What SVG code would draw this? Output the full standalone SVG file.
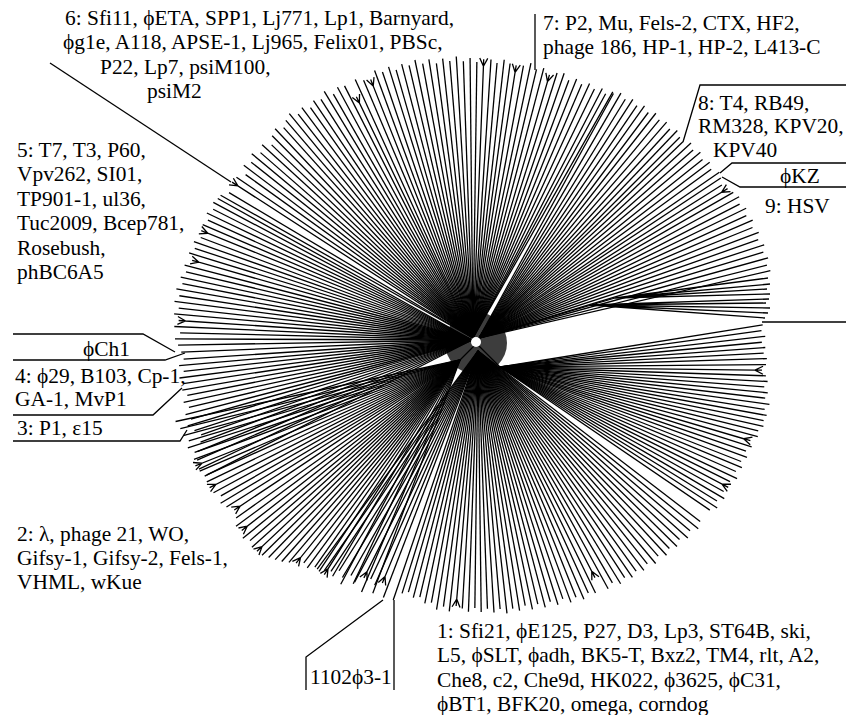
<svg xmlns="http://www.w3.org/2000/svg" width="846" height="715" viewBox="0 0 846 715">
<style>
.t{font-family:"Liberation Serif","Times New Roman",serif;font-size:21.4px;fill:#000}
.e{stroke:#000;stroke-width:1.3;fill:none}
</style>
<rect width="846" height="715" fill="#fff"/>
<circle id="hub" cx="476" cy="343" r="31" fill="#3d3d3d"/>
<g id="tree" class="e">
<g id="clade-top" transform="translate(473,338)">
<line x2="290" transform="rotate(-150.5)"/>
<line x2="284" transform="rotate(-149.2)"/>
<path d="M0 0H280l8-4m-8 4l8 4m-8-4h7" transform="rotate(-147.1)"/>
<line x2="286" transform="rotate(-145.8)"/>
<line x2="280" transform="rotate(-144.3)"/>
<line x2="287" transform="rotate(-143)"/>
<line x2="283" transform="rotate(-141.6)"/>
<line x2="288" transform="rotate(-140.2)"/>
<line x2="282" transform="rotate(-138.9)"/>
<line x2="286" transform="rotate(-137.5)"/>
<line x2="279" transform="rotate(-136.2)"/>
<line x2="285" transform="rotate(-134.8)"/>
<line x2="288" transform="rotate(-133.4)"/>
<line x2="283" transform="rotate(-132)"/>
<line x2="287" transform="rotate(-130.7)"/>
<line x2="290" transform="rotate(-129.3)"/>
<line x2="284" transform="rotate(-128)"/>
<line x2="287" transform="rotate(-126.6)"/>
<line x2="282" transform="rotate(-125.2)"/>
<line x2="286" transform="rotate(-123.9)"/>
<line x2="283" transform="rotate(-122.5)"/>
<line x2="288" transform="rotate(-121.1)"/>
<line x2="281" transform="rotate(-119.8)"/>
<line x2="285" transform="rotate(-118.4)"/>
<line x2="283" transform="rotate(-117)"/>
<path d="M0 0H261l8-4m-8 4l8 4m-8-4h7" transform="rotate(-115.8)"/>
<line x2="284" transform="rotate(-114.5)"/>
<line x2="280" transform="rotate(-113)"/>
<path d="M0 0H271l8-4m-8 4l8 4m-8-4h7" transform="rotate(-111.6)"/>
<line x2="285" transform="rotate(-110.2)"/>
<line x2="281" transform="rotate(-108.8)"/>
<line x2="284" transform="rotate(-107.3)"/>
<line x2="279" transform="rotate(-106)"/>
<line x2="283" transform="rotate(-104.6)"/>
<line x2="280" transform="rotate(-103.2)"/>
<line x2="284" transform="rotate(-101.8)"/>
<line x2="279" transform="rotate(-100.4)"/>
<line x2="282" transform="rotate(-99)"/>
<line x2="277" transform="rotate(-97.6)"/>
<line x2="281" transform="rotate(-96.2)"/>
<line x2="278" transform="rotate(-94.8)"/>
<line x2="282" transform="rotate(-93.4)"/>
<line x2="277" transform="rotate(-92)"/>
<line x2="280" transform="rotate(-90.6)"/>
<line x2="276" transform="rotate(-89.2)"/>
<path d="M0 0H272l8-4m-8 4l8 4m-8-4h7" transform="rotate(-87.8)"/>
<line x2="279" transform="rotate(-86.3)"/>
<line x2="276" transform="rotate(-85)"/>
<line x2="280" transform="rotate(-83.6)"/>
<line x2="277" transform="rotate(-82.3)"/>
<path d="M0 0H269l8-4m-8 4l8 4m-8-4h7" transform="rotate(-81)"/>
<line x2="277" transform="rotate(-79.5)"/>
<line x2="281" transform="rotate(-78.1)"/>
<line x2="276" transform="rotate(-76.7)"/>
<line x2="279" transform="rotate(-75.3)"/>
<path d="M0 0H267l8-4m-8 4l8 4m-8-4h7" transform="rotate(-73.8)"/>
<line x2="278" transform="rotate(-72.4)"/>
<line x2="280" transform="rotate(-71)"/>
<line x2="275" transform="rotate(-69.6)"/>
<line x2="279" transform="rotate(-68.2)"/>
<line x2="276" transform="rotate(-66.8)"/>
<line x2="280" transform="rotate(-65.4)"/>
<line x2="277" transform="rotate(-64)"/>
<line x2="281" transform="rotate(-62.6)"/>
<line x2="278" transform="rotate(-61.5)"/>
<line x2="283" transform="rotate(-60.4)"/>
</g>
<g id="clade-upper-right" transform="translate(479,338)">
<line x2="279" transform="rotate(-61.2)"/>
<line x2="283" transform="rotate(-59.9)"/>
<line x2="280" transform="rotate(-58.5)"/>
<line x2="284" transform="rotate(-57.2)"/>
<line x2="281" transform="rotate(-55.8)"/>
<line x2="285" transform="rotate(-54.5)"/>
<line x2="282" transform="rotate(-53.1)"/>
<line x2="286" transform="rotate(-51.8)"/>
<line x2="283" transform="rotate(-50.4)"/>
<line x2="286" transform="rotate(-49)"/>
<line x2="283" transform="rotate(-47.6)"/>
<line x2="287" transform="rotate(-46.3)"/>
<line x2="284" transform="rotate(-45)"/>
<line x2="283" transform="rotate(-43.9)"/>
<line x2="288" transform="rotate(-42.6)"/>
<line x2="285" transform="rotate(-41.3)"/>
<line x2="289" transform="rotate(-40)"/>
<line x2="286" transform="rotate(-38.6)"/>
<line x2="290" transform="rotate(-37.3)"/>
<line x2="287" transform="rotate(-36)"/>
<line x2="292" transform="rotate(-34.6)"/>
<line x2="290" transform="rotate(-33.5)"/>
<line x2="287" transform="rotate(-32.2)"/>
<path d="M0 0H283l8-4m-8 4l8 4m-8-4h7" transform="rotate(-31)"/>
<line x2="293" transform="rotate(-29.8)"/>
<line x2="296" transform="rotate(-28.5)"/>
<line x2="293" transform="rotate(-27.2)"/>
<line x2="297" transform="rotate(-25.9)"/>
<line x2="294" transform="rotate(-24.6)"/>
<line x2="298" transform="rotate(-23.3)"/>
<line x2="295" transform="rotate(-22)"/>
<line x2="299" transform="rotate(-20.7)"/>
<line x2="296" transform="rotate(-19.4)"/>
<line x2="300" transform="rotate(-18.1)"/>
<line x2="297" transform="rotate(-16.8)"/>
<line x2="300" transform="rotate(-15.5)"/>
<line x2="297" transform="rotate(-14.2)"/>
<line x2="299" transform="rotate(-13)"/>
</g>
<path id="clade-right-fan" d="M479 338L615 298M615 298L768 278M615 298L770 284M615 298L767 289M615 298L770 294M590 305L769 299M590 305L766 303M590 305L770 308M590 305L768 313M590 305L765 318"/>
<path d="M476 343L500 367M474 346L460 360"/>
<g id="clade-right" transform="translate(500,367)">
<line x2="266" transform="rotate(-9.1)"/>
<line x2="264" transform="rotate(-7.9)"/>
<line x2="267" transform="rotate(-6.6)"/>
<line x2="263" transform="rotate(-5.4)"/>
<line x2="266" transform="rotate(-4.2)"/>
<line x2="264" transform="rotate(-3)"/>
<line x2="267" transform="rotate(-1.8)"/>
<line x2="266" transform="rotate(-0.5)"/>
<path d="M0 0H255l8-4m-8 4l8 4m-8-4h7" transform="rotate(0.7)"/>
<line x2="266" transform="rotate(1.9)"/>
<line x2="268" transform="rotate(3.1)"/>
<line x2="265" transform="rotate(4.3)"/>
<line x2="269" transform="rotate(5.5)"/>
<line x2="267" transform="rotate(6.7)"/>
<line x2="272" transform="rotate(7.9)"/>
<line x2="268" transform="rotate(9.1)"/>
<line x2="271" transform="rotate(10.3)"/>
<line x2="269" transform="rotate(11.5)"/>
<line x2="270" transform="rotate(12.7)"/>
<line x2="266" transform="rotate(13.9)"/>
<line x2="267" transform="rotate(15.1)"/>
<path d="M0 0H254l8-4m-8 4l8 4m-8-4h7" transform="rotate(16.4)"/>
<line x2="264" transform="rotate(17.6)"/>
<line x2="260" transform="rotate(18.9)"/>
<line x2="263" transform="rotate(20.1)"/>
<line x2="259" transform="rotate(21.4)"/>
<line x2="262" transform="rotate(22.6)"/>
<line x2="258" transform="rotate(23.9)"/>
<line x2="262" transform="rotate(25.2)"/>
<line x2="257" transform="rotate(26.5)"/>
<path d="M0 0H251l8-4m-8 4l8 4m-8-4h7" transform="rotate(27.8)"/>
<line x2="256" transform="rotate(29.1)"/>
<line x2="260" transform="rotate(30.4)"/>
<line x2="255" transform="rotate(31.7)"/>
<line x2="259" transform="rotate(33)"/>
<line x2="254" transform="rotate(34.3)"/>
</g>
<g id="clade-bottom" transform="translate(478,351)">
<line x2="280" transform="rotate(37.5)"/>
<line x2="283" transform="rotate(38.9)"/>
<line x2="278" transform="rotate(40.3)"/>
<line x2="281" transform="rotate(41.7)"/>
<line x2="276" transform="rotate(43.1)"/>
<line x2="279" transform="rotate(44.5)"/>
<line x2="275" transform="rotate(45.9)"/>
<line x2="278" transform="rotate(47.3)"/>
<line x2="273" transform="rotate(48.7)"/>
<line x2="277" transform="rotate(50.1)"/>
<line x2="272" transform="rotate(51.5)"/>
<line x2="275" transform="rotate(52.9)"/>
<line x2="271" transform="rotate(54.3)"/>
<line x2="274" transform="rotate(55.7)"/>
<line x2="270" transform="rotate(57.1)"/>
<line x2="273" transform="rotate(58.5)"/>
<line x2="268" transform="rotate(59.9)"/>
<line x2="271" transform="rotate(61.3)"/>
<path d="M0 0H248l8-4m-8 4l8 4m-8-4h7" transform="rotate(62.7)"/>
<line x2="269" transform="rotate(64.1)"/>
<line x2="266" transform="rotate(65.5)"/>
<line x2="270" transform="rotate(66.9)"/>
<line x2="265" transform="rotate(68.3)"/>
<line x2="268" transform="rotate(69.7)"/>
<line x2="262" transform="rotate(71.1)"/>
<line x2="266" transform="rotate(72.5)"/>
<line x2="261" transform="rotate(73.9)"/>
<line x2="265" transform="rotate(75.3)"/>
<line x2="260" transform="rotate(76.7)"/>
<line x2="264" transform="rotate(78.1)"/>
<line x2="259" transform="rotate(79.5)"/>
<line x2="263" transform="rotate(80.9)"/>
<line x2="260" transform="rotate(82.3)"/>
<line x2="264" transform="rotate(83.7)"/>
<line x2="259" transform="rotate(85.1)"/>
<line x2="262" transform="rotate(86.5)"/>
<line x2="258" transform="rotate(87.9)"/>
<line x2="261" transform="rotate(89.3)"/>
<line x2="257" transform="rotate(90.7)"/>
<line x2="261" transform="rotate(92.1)"/>
<line x2="258" transform="rotate(93.5)"/>
<path d="M0 0H249l8-4m-8 4l8 4m-8-4h7" transform="rotate(94.9)"/>
<line x2="262" transform="rotate(96.3)"/>
<line x2="258" transform="rotate(97.7)"/>
<line x2="262" transform="rotate(99.1)"/>
<line x2="256" transform="rotate(100.5)"/>
<line x2="258" transform="rotate(101.9)"/>
<line x2="253" transform="rotate(103.3)"/>
<line x2="255" transform="rotate(104.7)"/>
<line x2="251" transform="rotate(106.1)"/>
<line x2="254" transform="rotate(107.4)"/>
<line x2="263" transform="rotate(108.8)"/>
<line x2="264" transform="rotate(111)"/>
<path d="M0 0H244l8-4m-8 4l8 4m-8-4h7" transform="rotate(112.4)"/>
<line x2="256" transform="rotate(113.8)"/>
<line x2="252" transform="rotate(115.2)"/>
<path d="M0 0H247l8-4m-8 4l8 4m-8-4h7" transform="rotate(116.7)"/>
<line x2="262" transform="rotate(118.1)"/>
<line x2="258" transform="rotate(119.5)"/>
<line x2="264" transform="rotate(120.9)"/>
<line x2="260" transform="rotate(122.3)"/>
<line x2="265" transform="rotate(123.7)"/>
<line x2="268" transform="rotate(125)"/>
<line x2="271" transform="rotate(126.4)"/>
</g>
<g id="clade-lower-left" transform="translate(460,360)">
<line x2="249" transform="rotate(110.5)"/>
<line x2="252" transform="rotate(113)"/>
<line x2="248" transform="rotate(115.5)"/>
<line x2="254" transform="rotate(118)"/>
<line x2="251" transform="rotate(120.5)"/>
<path d="M0 0H247l8-4m-8 4l8 4m-8-4h7" transform="rotate(122.3)"/>
<line x2="254" transform="rotate(123.7)"/>
<line x2="253" transform="rotate(125)"/>
<line x2="258" transform="rotate(126.3)"/>
<line x2="256" transform="rotate(127.6)"/>
<path d="M0 0H254l8-4m-8 4l8 4m-8-4h7" transform="rotate(128.9)"/>
<line x2="265" transform="rotate(130.2)"/>
<line x2="269" transform="rotate(131.5)"/>
<line x2="272" transform="rotate(132.8)"/>
<line x2="275" transform="rotate(134.1)"/>
<line x2="278" transform="rotate(135.4)"/>
<path d="M0 0H272l8-4m-8 4l8 4m-8-4h7" transform="rotate(136.7)"/>
<line x2="280" transform="rotate(138)"/>
<line x2="277" transform="rotate(139.3)"/>
<line x2="281" transform="rotate(140.6)"/>
<path d="M0 0H270l8-4m-8 4l8 4m-8-4h7" transform="rotate(142)"/>
<line x2="279" transform="rotate(143.4)"/>
<line x2="274" transform="rotate(144.8)"/>
<path d="M0 0H264l8-4m-8 4l8 4m-8-4h7" transform="rotate(146.4)"/>
<line x2="276" transform="rotate(147.8)"/>
<line x2="279" transform="rotate(149.1)"/>
<line x2="275" transform="rotate(150.4)"/>
<line x2="280" transform="rotate(151.7)"/>
<path d="M0 0H274l8-4m-8 4l8 4m-8-4h7" transform="rotate(153)"/>
<line x2="281" transform="rotate(154.3)"/>
<line x2="278" transform="rotate(155.6)"/>
<line x2="283" transform="rotate(156.9)"/>
<path d="M0 0H278l8-4m-8 4l8 4m-8-4h7" transform="rotate(158.2)"/>
<line x2="284" transform="rotate(159.5)"/>
<line x2="281" transform="rotate(160.8)"/>
<line x2="286" transform="rotate(162.1)"/>
<line x2="283" transform="rotate(163.4)"/>
<line x2="287" transform="rotate(164.7)"/>
<line x2="288" transform="rotate(166.2)"/>
<line x2="291" transform="rotate(167.8)"/>
</g>
<g id="clade-left" transform="translate(472,340)">
<line x2="300" transform="rotate(153)"/>
<line x2="302" transform="rotate(154.7)"/>
<line x2="300" transform="rotate(156.4)"/>
<line x2="296" transform="rotate(157.9)"/>
<line x2="290" transform="rotate(159.4)"/>
<line x2="287" transform="rotate(160.7)"/>
<line x2="292" transform="rotate(161.9)"/>
<line x2="297" transform="rotate(163.2)"/>
<line x2="292" transform="rotate(164.3)"/>
<line x2="296" transform="rotate(165.4)"/>
<line x2="291" transform="rotate(166.6)"/>
<line x2="295" transform="rotate(167.8)"/>
<line x2="290" transform="rotate(169)"/>
<line x2="294" transform="rotate(170.2)"/>
<line x2="292" transform="rotate(171.4)"/>
<line x2="295" transform="rotate(172.6)"/>
<line x2="290" transform="rotate(173.8)"/>
<line x2="294" transform="rotate(175)"/>
<line x2="289" transform="rotate(176.2)"/>
<line x2="291" transform="rotate(177.6)"/>
<line x2="294" transform="rotate(179)"/>
<line x2="297" transform="rotate(180.2)"/>
<line x2="292" transform="rotate(181.4)"/>
<line x2="298" transform="rotate(182.6)"/>
<path d="M0 0H287l8-4m-8 4l8 4m-8-4h7" transform="rotate(183.8)"/>
<line x2="299" transform="rotate(185)"/>
<line x2="295" transform="rotate(186.2)"/>
<line x2="300" transform="rotate(187.4)"/>
<line x2="296" transform="rotate(188.6)"/>
<line x2="300" transform="rotate(189.8)"/>
<line x2="295" transform="rotate(191)"/>
<line x2="298" transform="rotate(192.2)"/>
<line x2="294" transform="rotate(193.4)"/>
<line x2="297" transform="rotate(194.6)"/>
<path d="M0 0H284l8-4m-8 4l8 4m-8-4h7" transform="rotate(195.9)"/>
<line x2="296" transform="rotate(197.1)"/>
<line x2="292" transform="rotate(198.3)"/>
<line x2="295" transform="rotate(199.5)"/>
<line x2="290" transform="rotate(200.7)"/>
<path d="M0 0H285l8-4m-8 4l8 4m-8-4h7" transform="rotate(202)"/>
<line x2="293" transform="rotate(203.2)"/>
<line x2="290" transform="rotate(204.4)"/>
<line x2="294" transform="rotate(205.6)"/>
<line x2="290" transform="rotate(206.8)"/>
<line x2="293" transform="rotate(208)"/>
<line x2="291" transform="rotate(209.1)"/>
</g>
</g>
<circle cx="476" cy="342" r="5" fill="#fff"/>
<g id="connectors" class="e">
<path d="M50 63L231 182"/>
<path d="M535 14V70"/>
<path d="M846 85H700L683 142"/>
<path d="M846 163H732L720 173"/>
<path d="M846 187H740L722 177"/>
<path d="M762 322H846"/>
<path d="M13 334H143L175 352"/>
<path d="M13 360H165L185 353"/>
<path d="M13 415H153L182 388"/>
<path d="M13 441H180L187 430"/>
<path d="M383 600L306 657V690"/>
<path d="M394 600V690"/>
</g>
<g id="label-6" class="t">
<text x="65" y="25">6: Sfi11, ϕETA, SPP1, Lj771, Lp1, Barnyard,</text>
<text x="63" y="49">ϕg1e, A118, APSE-1, Lj965, Felix01, PBSc,</text>
<text x="100" y="74">P22, Lp7, psiM100,</text>
<text x="147" y="98">psiM2</text>
</g>
<g id="label-7" class="t">
<text x="543" y="30">7: P2, Mu, Fels-2, CTX, HF2,</text>
<text x="543" y="54">phage 186, HP-1, HP-2, L413-C</text>
</g>
<g id="label-8" class="t">
<text x="698" y="110">8: T4, RB49,</text>
<text x="698" y="133">RM328, KPV20,</text>
<text x="713" y="157">KPV40</text>
</g>
<g id="label-phiKZ" class="t"><text x="780" y="183">ϕKZ</text></g>
<g id="label-9" class="t"><text x="765" y="213">9: HSV</text></g>
<g id="label-5" class="t">
<text x="17" y="157">5: T7, T3, P60,</text>
<text x="17" y="181">Vpv262, SI01,</text>
<text x="17" y="206">TP901-1, ul36,</text>
<text x="17" y="230">Tuc2009, Bcep781,</text>
<text x="17" y="255">Rosebush,</text>
<text x="17" y="279">phBC6A5</text>
</g>
<g id="label-phiCh1" class="t"><text x="83" y="356">ϕCh1</text></g>
<g id="label-4" class="t">
<text x="15" y="383">4: ϕ29, B103, Cp-1,</text>
<text x="15" y="406">GA-1, MvP1</text>
</g>
<g id="label-3" class="t"><text x="17" y="435">3: P1, ε15</text></g>
<g id="label-2" class="t">
<text x="17" y="541">2: λ, phage 21, WO,</text>
<text x="17" y="565">Gifsy-1, Gifsy-2, Fels-1,</text>
<text x="17" y="589">VHML, wKue</text>
</g>
<g id="label-1102" class="t"><text x="310" y="684">1102ϕ3-1</text></g>
<g id="label-1" class="t">
<text x="437" y="638">1: Sfi21, ϕE125, P27, D3, Lp3, ST64B, ski,</text>
<text x="437" y="662">L5, ϕSLT, ϕadh, BK5-T, Bxz2, TM4, rlt, A2,</text>
<text x="437" y="687">Che8, c2, Che9d, HK022, ϕ3625, ϕC31,</text>
<text x="437" y="711">ϕBT1, BFK20, omega, corndog</text>
</g>
</svg>
